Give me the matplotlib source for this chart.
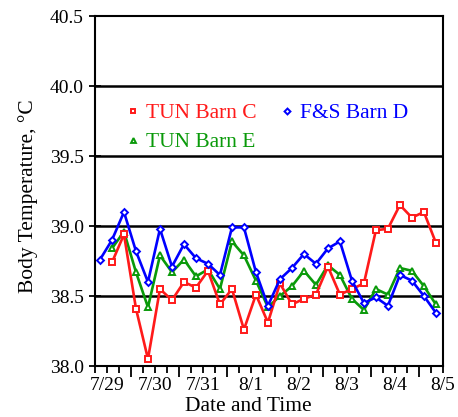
import numpy as np
import matplotlib
matplotlib.use("Agg")
import matplotlib.pyplot as plt
from matplotlib.lines import Line2D

plt.rcParams['font.family'] = ['Liberation Serif', 'DejaVu Serif']

# sample times, hours from 7/29 00:00
hours = [-3.5, 2.5, 8.5, 14.5, 20.5, 26.5, 32.5, 38.5, 44.5, 50.5,
         56.5, 62.5, 68.5, 74.5, 80.5, 86.5, 92.5, 98.5, 104.5, 110.5,
         116.5, 122.5, 128.5, 134.5, 140.5, 146.5, 152.5, 158.5, 164.5]

tun_c = [np.nan, 38.74, 38.94, 38.41, 38.05, 38.55, 38.47, 38.60, 38.56, 38.68,
         38.44, 38.55, 38.26, 38.51, 38.31, 38.59, 38.44, 38.48, 38.51, 38.71,
         38.51, 38.55, 38.59, 38.97, 38.98, 39.15, 39.06, 39.10, 38.88]
fs_d = [38.76, 38.90, 39.10, 38.82, 38.60, 38.98, 38.71, 38.87, 38.77, 38.73,
        38.65, 38.99, 38.99, 38.67, 38.43, 38.62, 38.70, 38.80, 38.73, 38.84,
        38.89, 38.61, 38.45, 38.49, 38.43, 38.65, 38.61, 38.50, 38.38]
tun_e = [np.nan, 38.84, 38.96, 38.67, 38.42, 38.79, 38.67, 38.76, 38.64, 38.69,
         38.55, 38.89, 38.79, 38.61, 38.42, 38.50, 38.57, 38.68, 38.58, 38.72,
         38.65, 38.48, 38.40, 38.55, 38.51, 38.70, 38.68, 38.57, 38.44]

day_labels = ['7/29', '7/30', '7/31', '8/1', '8/2', '8/3', '8/4', '8/5']

RED = '#ff1a1a'
BLUE = '#0000ff'
GREEN = '#0a9a0a'

fig = plt.figure(figsize=(4.58, 4.17), dpi=100)
ax = fig.add_axes([0.2074, 0.1223, 0.7596, 0.8393])

days = np.array(hours) / 24.0
style = dict(lw=1.9, ms=4, mew=1.4, mfc='white')
ax.plot(days, tun_e, color=GREEN, marker='^', **style)
ax.plot(days, tun_c, color=RED, marker='s', **style)
ax.plot(days, fs_d, color=BLUE, marker='D', **dict(style, ms=3.5))

ax.set_xlim(-0.25, 7)
ax.set_ylim(38.0, 40.5)
ax.set_yticks([38.0, 38.5, 39.0, 39.5, 40.0, 40.5])
ax.set_yticklabels(['38.0', '38.5', '39.0', '39.5', '40.0', '40.5'], fontsize=14)
for y in [38.5, 39.0, 39.5, 40.0]:
    ax.axhline(y, color='black', lw=1.8, zorder=0)

# long ticks at noon, short ticks every 6 h, date labels at midnight
ax.set_xticks([d + 0.5 for d in range(7)])
ax.set_xticklabels([])
minor = [q / 4 for q in range(-1, 29) if q % 4 != 2]
ax.set_xticks(minor, minor=True)
ax.set_xticklabels([day_labels[int(m)] if m == int(m) and m >= 0 else '' for m in minor],
                   minor=True, fontsize=14)
ax.tick_params(axis='x', which='major', direction='out', length=8, width=1.3)
ax.tick_params(axis='x', which='minor', direction='out', length=5, width=1.3, pad=3)
ax.tick_params(axis='y', which='major', direction='inout', length=9, width=1.3)

for s in ax.spines.values():
    s.set_linewidth(1.5)

ax.set_xlabel('Date and Time', fontsize=15.5)
ax.xaxis.set_label_coords(0.44, -0.09)
ax.set_ylabel('Body Temperature, °C', fontsize=15.5)
ax.yaxis.set_label_coords(-0.165, 0.485)

handles = [
    Line2D([], [], color=RED, marker='s', ls='none', ms=3.5, mew=1.4, mfc='white', label='TUN Barn C'),
    Line2D([], [], color=GREEN, marker='^', ls='none', ms=3.5, mew=1.4, mfc='white', label='TUN Barn E'),
    Line2D([], [], color=BLUE, marker='D', ls='none', ms=3, mew=1.4, mfc='white', label='F&S Barn D'),
]
leg = ax.legend(handles=handles, ncol=2, loc='upper left', bbox_to_anchor=(0.06, 0.775),
                frameon=False, fontsize=15.5, handlelength=0.8, handletextpad=0.2,
                columnspacing=1.0, labelspacing=0.4, borderaxespad=0)
for t, c in zip(leg.get_texts(), [RED, GREEN, BLUE]):
    t.set_color(c)

fig.savefig('out.png', dpi=100)
